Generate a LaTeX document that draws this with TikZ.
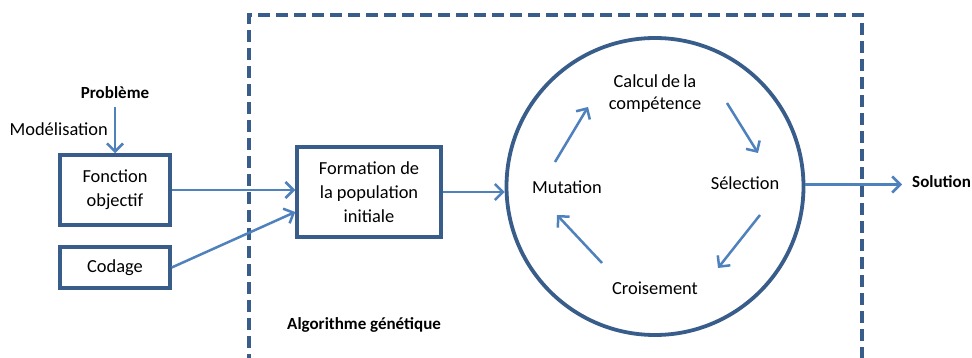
\documentclass[tikz,border=0pt]{standalone}
\usepackage{fontspec}
\setmainfont{Carlito}
\usetikzlibrary{arrows.meta,calc}
\definecolor{boxblue}{HTML}{385D8A}
\definecolor{arrblue}{HTML}{4F81BD}
\begin{document}
\begin{tikzpicture}[x=1pt,y=-1pt,
  box/.style={draw=boxblue,line width=3.5pt,align=center,inner sep=0pt,font=\fontsize{18.4}{24}\selectfont},
  lbl/.style={align=center,inner sep=1pt,font=\fontsize{18.4}{22}\selectfont},
  blbl/.style={inner sep=1pt,font=\fontsize{17}{20}\selectfont\bfseries},
  arr/.style={draw=arrblue,line width=2.5pt,-{Straight Barb[length=8pt,width=16pt,line width=2.5pt]}}
]
\clip (0,0) rectangle (972,358);
\fill[white] (0,0) rectangle (972,358);
% dashed frame (open at the bottom)
\draw[boxblue,line width=3.8pt,dash pattern=on 12pt off 6pt] (249,366) -- (249,15) -- (862,15) -- (862,366);
% left part
\node[blbl] (prob) at (115,93) {Problème};
\node[box,minimum width=110pt,minimum height=70pt] (fo) at (115,190) {Fonction\\objectif};
\node[box,minimum width=110pt,minimum height=41pt] (cod) at (115,267.5) {Codage};
\node[lbl,anchor=east] (model) at (109,129) {Modélisation};
\node[box,minimum width=144pt,minimum height=90pt] (form) at (369,192) {Formation de\\la population\\initiale};
% cycle
\node[draw=boxblue,line width=3.8pt,circle,minimum size=297pt,inner sep=0pt] (cyc) at (655,186.5) {};
\node[lbl] (calc) at (655,94) {Calcul\hspace{-1pt} de\hspace{-1pt} la\\compétence};
\node[lbl] (mut) at (567,187) {Mutation};
\node[lbl] (sel) at (745,183) {Sélection};
\node[lbl] (crois) at (655,288) {Croisement};
\node[blbl,anchor=west] (sol) at (911,182) {Solution};
\node[blbl,anchor=west] (algo) at (286,325) {Algorithme génétique};
% connectors
\draw[arr,shorten <=7pt] (prob.south) -- (fo.north);
\draw[arr] (fo.east) -- (fo.east -| form.west);
\draw[arr] (cod.east) -- ([yshift=-20pt]form.west);
\draw[arr] (form.east) -- (form.east -| cyc.west);
\draw[arr] ([yshift=2pt]cyc.east) -- ([yshift=2pt]cyc.east -| sol.west) [shorten >=9pt];
\draw[arr] ($(mut)+(-12,-25)$) -- ($(calc)+(-67,13)$);
\draw[arr] ($(calc)+(72,9)$) -- ($(sel)+(13,-30)$);
\draw[arr] ($(sel)+(15,32)$) -- ($(crois)+(63,-20)$);
\draw[arr] ($(crois)+(-53,-25)$) -- ($(mut)+(-10,28)$);
\end{tikzpicture}
\end{document}
